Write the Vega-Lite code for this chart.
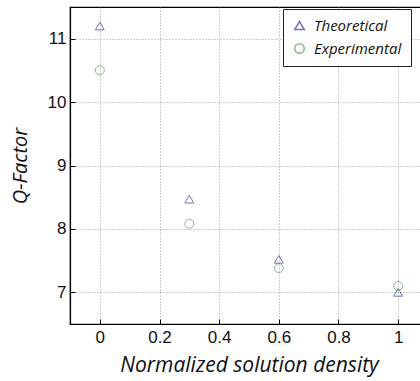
{
  "$schema": "https://vega.github.io/schema/vega-lite/v6.json",
  "autosize": "none",
  "width": 358,
  "height": 317,
  "padding": {"left": 70, "top": 7, "right": 0, "bottom": 57},
  "background": "white",
  "config": {
    "view": {"stroke": "black", "strokeWidth": 1.2},
    "axis": {
      "labelFont": "Liberation Sans",
      "labelFontSize": 17,
      "labelColor": "#111",
      "titleFont": "Open Sans",
      "titleFontStyle": "italic",
      "titleFontWeight": "normal",
      "titleFontSize": 21,
      "titleColor": "#111",
      "domainColor": "black",
      "domainWidth": 1.2,
      "tickColor": "black",
      "tickSize": -5,
      "gridColor": "#888",
      "gridDash": [1, 2],
      "gridOpacity": 0.8
    }
  },
  "data": {
    "values": [
      {"x": 0, "q": 11.2, "series": "Theoretical"},
      {"x": 0.3, "q": 8.47, "series": "Theoretical"},
      {"x": 0.6, "q": 7.52, "series": "Theoretical"},
      {"x": 1, "q": 7.0, "series": "Theoretical"},
      {"x": 0, "q": 10.5, "series": "Experimental"},
      {"x": 0.3, "q": 8.08, "series": "Experimental"},
      {"x": 0.6, "q": 7.38, "series": "Experimental"},
      {"x": 1, "q": 7.1, "series": "Experimental"}
    ]
  },
  "mark": {"type": "point", "filled": false, "size": 80, "strokeWidth": 1},
  "encoding": {
    "x": {
      "field": "x", "type": "quantitative",
      "scale": {"domain": [-0.1, 1.1], "nice": false, "zero": false},
      "axis": {"values": [0, 0.2, 0.4, 0.6, 0.8, 1], "title": "Normalized solution density", "titlePadding": 9, "labelPadding": 10, "format": "~g"}
    },
    "y": {
      "field": "q", "type": "quantitative",
      "scale": {"domain": [6.5, 11.5], "nice": false, "zero": false},
      "axis": {"values": [7, 8, 9, 10, 11], "title": "Q-Factor", "titleFontSize": 20, "titlePadding": 17, "labelPadding": 9}
    },
    "shape": {
      "field": "series", "type": "nominal",
      "scale": {"domain": ["Theoretical", "Experimental"], "range": ["triangle-up", "circle"]},
      "legend": null
    },
    "color": {
      "field": "series", "type": "nominal",
      "scale": {"domain": ["Theoretical", "Experimental"], "range": ["#3b3b96", "#5a9a5a"]},
      "legend": {
        "title": null,
        "orient": "none",
        "legendX": 213,
        "legendY": 2,
        "fillColor": "white",
        "strokeColor": "#222",
        "padding": 9,
        "labelFont": "Open Sans",
        "labelFontStyle": "italic",
        "labelFontSize": 15,
        "labelColor": "#111",
        "labelOffset": 7,
        "symbolType": "circle",
        "symbolFillColor": "transparent",
        "symbolSize": 90,
        "rowPadding": 6
      }
    }
  }
}
